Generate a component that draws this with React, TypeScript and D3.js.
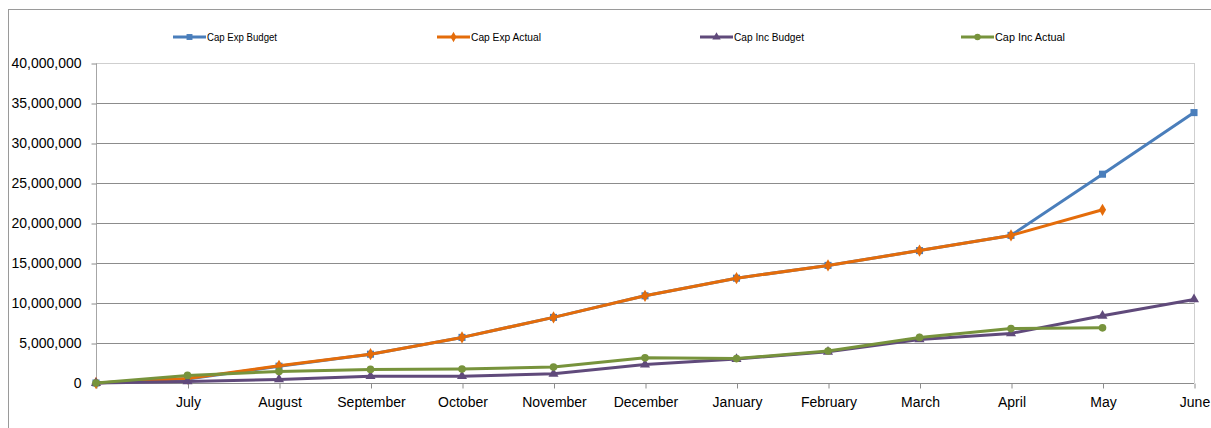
import React, { useEffect, useRef } from 'react';
import * as d3 from 'd3';

// first point is the opening balance, no label under it
const months = ['', 'July', 'August', 'September', 'October', 'November', 'December', 'January', 'February', 'March', 'April', 'May', 'June'];

const capExpBudget = [0, 500000, 2100000, 3600000, 5700000, 8200000, 10900000, 13100000, 14700000, 16550000, 18450000, 26100000, 33800000];
const capExpActual = [0, 550000, 2150000, 3600000, 5700000, 8200000, 10900000, 13100000, 14700000, 16550000, 18450000, 21650000];
const capIncBudget = [0, 200000, 450000, 850000, 850000, 1150000, 2300000, 3000000, 3900000, 5450000, 6200000, 8400000, 10450000];
const capIncActual = [0, 950000, 1450000, 1700000, 1750000, 2000000, 3150000, 3050000, 4000000, 5700000, 6800000, 6900000];

const yTicks = [0, 5000000, 10000000, 15000000, 20000000, 25000000, 30000000, 35000000, 40000000];

const series = [
  { name: 'Cap Exp Budget', values: capExpBudget, color: '#4A7EBB', symbol: d3.symbolSquare, size: 50 },
  { name: 'Cap Exp Actual', values: capExpActual, color: '#E46C0A', symbol: d3.symbolDiamond, size: 44 },
  { name: 'Cap Inc Budget', values: capIncBudget, color: '#604A7B', symbol: d3.symbolTriangle, size: 44 },
  { name: 'Cap Inc Actual', values: capIncActual, color: '#77933C', symbol: d3.symbolCircle, size: 46 },
];

const W = 1211, H = 428;
const FONT = '"Liberation Sans Narrow", "Arial Narrow", "Liberation Sans", sans-serif';

export default function App() {
  const ref = useRef<SVGSVGElement>(null);

  useEffect(() => {
    const svg = d3.select(ref.current);
    svg.selectAll('*').remove();

    const margin = { left: 96, right: 1194, top: 63, bottom: 383 };

    const x = d3.scalePoint<string>()
      .domain(months.map((m, i) => String(i)))
      .range([margin.left, margin.right]);
    const y = d3.scaleLinear().domain([0, 40000000]).range([margin.bottom, margin.top]);

    // outer frame
    svg.append('rect')
      .attr('x', 8.5).attr('y', 9.5)
      .attr('width', W + 10).attr('height', H + 10)
      .attr('fill', 'none').attr('stroke', '#9a9a9a').attr('stroke-width', 1);

    // gridlines
    svg.append('g').selectAll('line').data(yTicks).join('line')
      .attr('x1', margin.left).attr('x2', margin.right)
      .attr('y1', d => Math.round(y(d)) + 0.5).attr('y2', d => Math.round(y(d)) + 0.5)
      .attr('stroke', d => d === 40000000 ? '#cfcfcf' : '#8c8c8c').attr('stroke-width', 1);

    svg.append('line')
      .attr('x1', margin.right + 0.5).attr('x2', margin.right + 0.5)
      .attr('y1', margin.top).attr('y2', margin.bottom)
      .attr('stroke', '#cfcfcf');

    // y axis
    const yAxis = svg.append('g')
      .attr('transform', `translate(${margin.left + 0.5},0.5)`)
      .call(d3.axisLeft(y).tickValues(yTicks).tickSize(5).tickPadding(10).tickFormat(d3.format(',')));
    yAxis.select('.domain').attr('stroke', '#a6a6a6').attr('d', `M0,${margin.top}V${margin.bottom + 5}`);
    yAxis.selectAll('.tick line').attr('stroke', '#8c8c8c');
    yAxis.selectAll('.tick text')
      .attr('fill', '#000').style('font-family', FONT).style('font-size', '14px');

    // x axis
    const xAxis = svg.append('g')
      .attr('transform', `translate(0.5,${margin.bottom + 0.5})`)
      .call(d3.axisBottom(x).tickSize(5).tickPadding(9).tickFormat(d => months[+d]));
    xAxis.select('.domain').remove();
    xAxis.selectAll('.tick line').attr('stroke', '#8c8c8c');
    xAxis.selectAll('.tick text')
      .attr('fill', '#000').style('font-family', FONT).style('font-size', '14px');

    // series
    const line = d3.line<number>()
      .x((d, i) => x(String(i)) as number)
      .y(d => y(d));

    series.forEach(s => {
      const g = svg.append('g');
      g.append('path')
        .datum(s.values)
        .attr('d', line)
        .attr('fill', 'none')
        .attr('stroke', s.color)
        .attr('stroke-width', 3)
        .attr('stroke-linejoin', 'round');
      g.selectAll('path.pt').data(s.values).join('path')
        .attr('class', 'pt')
        .attr('transform', (d, i) => `translate(${x(String(i))},${y(d)})`)
        .attr('d', d3.symbol().type(s.symbol).size(s.size)())
        .attr('fill', s.color);
    });

    // legend
    const legendX = [173, 437, 700, 961];
    const legend = svg.append('g');
    series.forEach((s, i) => {
      const lg = legend.append('g').attr('transform', `translate(${legendX[i]},37)`);
      lg.append('line').attr('x1', 0).attr('x2', 33).attr('y1', 0).attr('y2', 0)
        .attr('stroke', s.color).attr('stroke-width', 3);
      lg.append('path').attr('transform', 'translate(16.5,0)')
        .attr('d', d3.symbol().type(s.symbol).size(s.size * 0.7)())
        .attr('fill', s.color);
      lg.append('text').attr('x', 34).attr('y', 4)
        .style('font-family', FONT).style('font-size', '11px')
        .attr('textLength', 70).attr('lengthAdjust', 'spacingAndGlyphs')
        .attr('fill', '#000')
        .text(s.name);
    });
  }, []);

  return (
    <svg ref={ref} width={W} height={H} style={{ position: 'absolute', left: 0, top: 0, background: '#fff' }} />
  );
}
